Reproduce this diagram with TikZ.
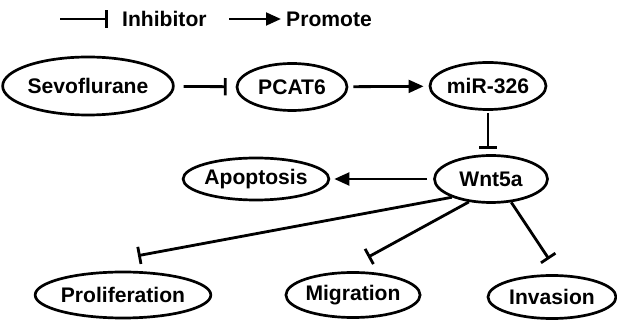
\documentclass[tikz,border=0pt]{standalone}
\usepackage{fontspec}
\setmainfont{Liberation Sans}
\usetikzlibrary{shapes.geometric, arrows.meta, positioning, calc}
\tikzset{
  geneoval/.style={ellipse, draw=black, line width=2.3pt, inner sep=0pt, font=\fontsize{18}{21}\bfseries\selectfont},
  promotearrow/.style={-{Triangle[length=0.45cm, width=0.38cm]}, line width=2.4pt},
  inhibitline/.style={-{Bar[width=0.52cm, line width=2.4pt]}, line width=2.4pt},
  legendtext/.style={anchor=west, inner sep=0pt, font=\fontsize{18}{21}\bfseries\selectfont}
}

\begin{document}
\begin{tikzpicture}[x=0.03cm, y=-0.03cm]
    \useasboundingbox (0,0) rectangle (617,320);

    % --- LEGEND ---
    \coordinate (inhA) at (60,19);
    \coordinate (inhB) at (108,19);
    \draw[inhibitline] (inhA) -- (inhB);
    \node[legendtext] (inhlabel) at (122,19) {Inhibitor};
    \coordinate (proA) at (229,19);
    \coordinate (proB) at (281,19);
    \draw[promotearrow] (proA) -- (proB);
    \node[legendtext] (prolabel) at (286,19) {Promote};

    % --- TOP ROW ---
    \node[geneoval, minimum width=4.68cm, minimum height=1.74cm] (sevo) at (88,86) {Sevoflurane};
    \node[geneoval, minimum width=3.3cm, minimum height=1.41cm] (pcat) at (292,87) {PCAT6};
    \node[geneoval, minimum width=3.39cm, minimum height=1.41cm] (mir) at (488,86) {miR-326};

    % --- MIDDLE ROW ---
    \node[geneoval, minimum width=3.39cm, minimum height=1.41cm] (wnt) at (491,179) {Wnt5a};
    \node[geneoval, minimum width=3.9cm, minimum height=1.26cm] (apop) at (256,179) {Apoptosis};

    % --- BOTTOM ROW ---
    \node[geneoval, minimum width=5.04cm, minimum height=1.38cm] (prolif) at (123,295) {Proliferation};
    \node[geneoval, minimum width=3.96cm, minimum height=1.35cm] (migr) at (353,295) {Migration};
    \node[geneoval, minimum width=3.84cm, minimum height=1.29cm] (inva) at (552,297) {Invasion};

    % connectors
    \draw[inhibitline, shorten <=0.27cm, shorten >=0.27cm] (sevo) -- (pcat);
    \draw[promotearrow, shorten <=0.15cm, shorten >=0.15cm] (pcat) -- (mir);
    \draw[inhibitline, shorten <=0.06cm, shorten >=0.15cm] (mir.south) -- (mir.south |- wnt.north);
    \draw[promotearrow, shorten <=0.18cm, shorten >=0.12cm] (wnt) -- (apop);
    \draw[inhibitline] (wnt.205) -- ([shift={(15,-15)}]prolif.north);
    \draw[inhibitline] (wnt.226) -- ([shift={(15,-14)}]migr.north);
    \draw[inhibitline] (wnt.311) -- ([shift={(-3,-15)}]inva.north);
\end{tikzpicture}
\end{document}
